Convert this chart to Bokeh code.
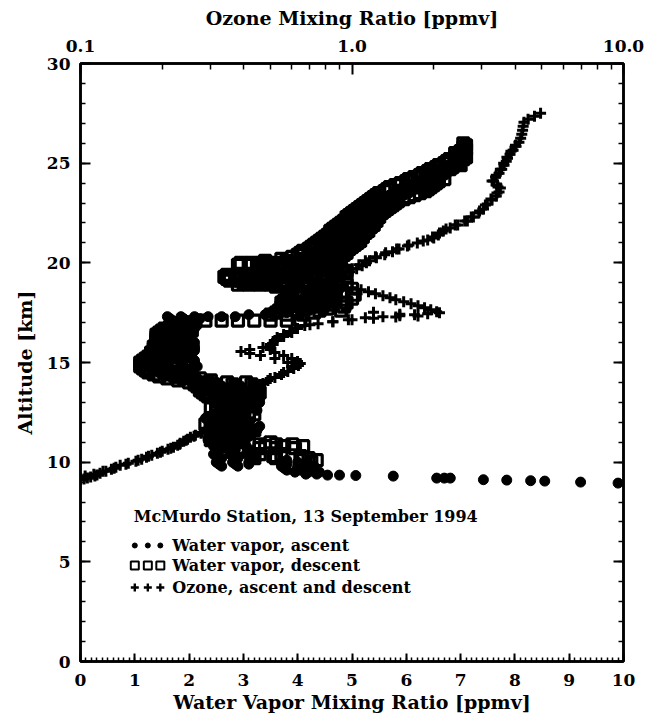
from bokeh.plotting import figure
from bokeh.models import Range1d, LinearAxis, LogAxis, LogScale, FixedTicker, PrintfTickFormatter
from bokeh.embed import file_html
from bokeh.resources import INLINE
from bokeh.core.properties import value

# ---------------- data (altitude km, then mixing ratio values at that altitude) ----------------
wv_ascent_levels = [
    (8.95, 9.9), (9.0, 9.21), (9.05, 8.55), (9.07, 8.29), (9.1, 7.85), (9.12, 7.42),
    (9.2, 6.81), (9.2, 6.7), (9.2, 6.56), (9.3, 5.76), (9.33, 5.07), (9.35, 4.77), (9.35, 4.55),
    (9.4, 4.35, 4.15), (9.5, 3.95, 4.2, 4.4), (9.6, 3.8, 4.05, 4.3), (9.7, 3.75, 4.0, 4.3),
    (9.8, 2.6, 2.9, 3.7, 4.0, 4.3), (9.9, 2.55, 2.85, 3.1, 3.8, 4.1), (10.0, 2.5, 2.8, 3.1, 3.75, 4.0),
    (10.1, 2.55, 2.85, 3.8), (10.2, 2.6, 2.9, 3.2), (10.3, 2.5, 2.8), (10.4, 2.45, 2.75, 3.05),
    (10.5, 2.5, 2.8), (10.6, 2.55, 2.85, 3.15), (10.7, 2.5, 2.8), (10.8, 2.45, 2.75, 3.05),
    (10.9, 2.5, 2.8), (11.0, 2.4, 2.7, 3.0), (11.1, 2.35, 2.65), (11.2, 2.35, 2.65, 2.95),
    (11.3, 2.4, 2.7), (11.4, 2.5, 2.8, 3.1), (11.5, 2.6, 2.9), (11.6, 2.7, 3.0, 3.25),
    (11.7, 2.8, 3.1), (11.8, 2.75, 3.05, 3.3), (11.9, 2.6, 2.9), (12.0, 2.5, 2.8, 3.1),
    (12.1, 2.4, 2.7), (12.2, 2.3, 2.6, 2.9), (12.3, 2.35, 2.65), (12.4, 2.45, 2.75, 3.05),
    (12.5, 2.55, 2.85), (12.6, 2.65, 2.95, 3.25), (12.7, 2.75, 3.05), (12.8, 2.9, 3.2),
    (12.9, 2.85, 3.15), (13.0, 2.8, 3.1, 3.3), (13.1, 2.75, 3.05), (13.2, 2.7, 3.0, 3.3),
    (13.3, 2.8, 3.1), (13.4, 2.9, 3.2), (13.5, 2.8, 3.1), (13.6, 2.6, 2.9), (13.7, 2.4, 2.7),
    (13.8, 2.3, 2.6), (13.9, 2.15, 2.45), (14.0, 2.05, 2.3), (14.1, 1.9, 2.2), (14.2, 1.75, 2.05),
    (14.3, 1.65, 1.95), (14.4, 1.55, 1.85, 2.1), (14.5, 1.45, 1.75, 2.05), (14.6, 1.4, 1.7, 2.0),
    (14.7, 1.35, 1.65, 1.95), (14.8, 1.3, 1.6, 1.9, 2.15), (14.9, 1.3, 1.6, 1.85, 2.1),
    (15.0, 1.35, 1.6, 1.85, 2.1), (15.1, 1.4, 1.65, 1.9, 2.1), (15.2, 1.45, 1.7, 1.95),
    (15.3, 1.5, 1.75, 2.0), (15.4, 1.5, 1.8, 2.05), (15.5, 1.55, 1.8, 2.05), (15.6, 1.55, 1.85, 2.1),
    (15.7, 1.6, 1.85, 2.1), (15.8, 1.6, 1.9, 2.1), (15.9, 1.65, 1.9), (16.0, 1.65, 1.9, 2.1),
    (16.1, 1.7, 1.95), (16.2, 1.7, 1.95), (16.3, 1.75, 2.0), (16.4, 1.8, 2.0), (16.5, 1.8, 2.05),
    (16.6, 1.85, 2.05), (16.7, 1.85, 2.1), (16.8, 1.9, 2.1), (16.9, 1.9, 2.15), (17.0, 1.8, 2.1),
    (17.1, 1.7, 2.0), (17.2, 1.65, 1.9, 2.2), (17.3, 1.6, 1.85, 2.1, 2.35, 2.6, 2.85),
    (17.4, 3.1, 3.4), (17.5, 3.5, 3.8), (17.6, 3.8, 4.1), (17.7, 4.0, 4.3), (17.8, 4.1, 4.45),
    (17.9, 4.2, 4.5), (18.0, 4.25, 4.6), (18.2, 4.3, 4.65), (18.4, 4.35, 4.7), (18.6, 4.4, 4.75),
    (18.8, 4.3, 4.6), (19.0, 4.0, 4.4), (19.2, 3.6, 4.0), (19.6, 3.9, 4.3), (20.0, 3.3, 3.5),
    (20.1, 3.7, 4.0), (20.2, 4.0, 4.3), (20.3, 4.2, 4.6), (20.5, 4.3, 4.7), (20.7, 4.4, 4.8),
    (20.9, 4.5, 4.9), (21.1, 4.6, 4.95), (21.3, 4.7, 5.05), (21.5, 4.75, 5.1), (21.7, 4.85, 5.15),
    (21.9, 4.9, 5.2), (22.1, 5.0, 5.3), (22.3, 5.05, 5.35), (22.5, 5.15, 5.45), (22.7, 5.25, 5.5),
    (22.9, 5.35, 5.6), (23.1, 5.5, 5.75), (23.3, 5.6, 5.9), (23.5, 5.75, 6.05), (23.7, 5.85, 6.2),
    (23.9, 6.0, 6.3), (24.1, 6.2, 6.45), (24.3, 6.35, 6.6), (24.5, 6.5, 6.75), (24.7, 6.6, 6.85),
    (24.9, 6.75, 6.95), (25.1, 6.85, 7.0), (25.3, 6.95),
]

wv_descent_levels = [
    (26.0, 7.05), (25.9, 7.1), (25.8, 7.05), (25.7, 7.1), (25.6, 7.0), (25.5, 6.9, 7.05),
    (25.4, 6.95), (25.3, 6.9, 7.1), (25.2, 6.8, 7.05), (25.1, 6.75), (25.0, 6.7, 6.95),
    (24.9, 6.6, 7.0), (24.8, 6.55, 6.85), (24.7, 6.45, 6.8), (24.6, 6.4, 6.7), (24.5, 6.3, 6.65),
    (24.4, 6.25, 6.55), (24.3, 6.15, 6.5), (24.2, 6.05, 6.45, 6.7), (24.1, 6.0, 6.35, 6.6),
    (24.0, 5.9, 6.3, 6.55), (23.9, 5.8, 6.2, 6.5), (23.8, 5.7, 6.1, 6.45), (23.7, 5.65, 6.0, 6.4),
    (23.6, 5.6, 5.95, 6.35), (23.5, 5.5, 5.9, 6.25), (23.4, 5.45, 5.85, 6.15), (23.3, 5.4, 5.75, 6.05),
    (23.2, 5.35, 5.7, 5.95), (23.1, 5.3, 5.65, 5.85), (23.0, 5.25, 5.55, 5.8), (22.9, 5.2, 5.5, 5.75),
    (22.8, 5.15, 5.45, 5.7), (22.7, 5.1, 5.4, 5.65), (22.6, 5.05, 5.35, 5.6), (22.5, 5.0, 5.3, 5.55),
    (22.4, 4.95, 5.25, 5.5), (22.3, 4.9, 5.2, 5.5), (22.2, 4.9, 5.2, 5.45), (22.1, 4.85, 5.15, 5.45),
    (22.0, 4.8, 5.1, 5.4), (21.9, 4.75, 5.05, 5.4), (21.8, 4.7, 5.0, 5.35), (21.7, 4.65, 5.0, 5.3),
    (21.6, 4.6, 4.95, 5.3), (21.5, 4.6, 4.9, 5.25), (21.4, 4.55, 4.9, 5.2), (21.3, 4.5, 4.85, 5.2),
    (21.2, 4.45, 4.8, 5.15), (21.1, 4.4, 4.75, 5.15), (21.0, 4.35, 4.7, 5.1), (20.9, 4.3, 4.65, 5.05),
    (20.8, 4.25, 4.6, 5.0), (20.7, 4.2, 4.55, 4.95), (20.6, 4.1, 4.5, 4.9), (20.5, 4.05, 4.45, 4.9),
    (20.4, 4.0, 4.4, 4.85), (20.3, 3.9, 4.3, 4.8), (20.2, 3.7, 4.1, 4.6), (20.1, 3.4, 3.8, 4.2, 4.7),
    (20.0, 2.95, 3.15, 3.35, 3.55, 3.75, 3.95, 4.15, 4.35, 4.55, 4.75),
    (19.9, 2.9, 3.1, 3.3, 3.5, 3.7, 3.9, 4.1, 4.3),
    (19.8, 3.25, 3.45, 3.65, 3.85, 4.05, 4.25, 4.45, 4.65), (19.7, 4.5, 4.8), (19.6, 4.6, 4.9), (19.5, 4.7),
    (19.4, 2.7, 2.9, 3.1, 3.3, 3.5, 3.7, 3.9, 4.1, 4.3, 4.5, 4.7),
    (19.3, 2.65, 2.85, 3.05, 3.25, 3.45, 3.65, 3.85, 4.05, 4.25, 4.45, 4.65, 4.9),
    (19.2, 2.7, 2.9, 3.1, 3.3, 3.5), (19.1, 2.75, 2.95, 3.15, 3.35, 3.55, 3.75, 3.95, 4.15, 4.35, 4.55, 4.75),
    (19.0, 3.0, 3.2, 3.4, 3.6, 3.8, 4.0, 4.2),
    (18.9, 2.9, 3.1, 3.3, 3.5, 3.7, 3.9, 4.1, 4.3, 4.5, 4.7, 4.9), (18.8, 3.6, 3.8, 4.0, 4.2, 4.4),
    (18.7, 3.8, 4.2, 4.6, 5.0),
    (18.6, 3.9, 4.3, 4.7), (18.5, 4.0, 4.4, 4.8), (18.4, 3.9, 4.3, 4.7, 5.05), (18.3, 3.85, 4.25, 4.65),
    (18.2, 3.8, 4.2, 4.6, 5.0), (18.1, 3.75, 4.15, 4.55), (18.0, 3.7, 4.1, 4.5, 4.9),
    (17.9, 3.8, 4.2, 4.6), (17.8, 3.7, 4.05, 4.45, 4.85), (17.7, 3.75, 4.15, 4.55),
    (17.6, 3.65, 4.0, 4.4, 4.8), (17.5, 3.6, 4.0, 4.3), (17.4, 3.5, 3.8, 4.1),
    (17.1, 2.3, 2.6, 2.9, 3.2, 3.5, 3.8, 4.05), (17.0, 1.9, 2.1), (16.9, 1.75, 2.0), (16.8, 1.65, 1.95),
    (16.7, 1.55, 1.85), (16.6, 1.5, 1.8, 2.05), (16.5, 1.45, 1.75, 2.0), (16.4, 1.4, 1.7),
    (16.3, 1.4, 1.7, 1.95), (16.2, 1.4, 1.65), (16.1, 1.4, 1.7, 1.95), (16.0, 1.4, 1.65),
    (15.9, 1.4, 1.7, 1.95), (15.8, 1.35, 1.65), (15.7, 1.35, 1.65, 1.95), (15.6, 1.35, 1.6),
    (15.5, 1.3, 1.6, 1.9), (15.4, 1.3, 1.6), (15.3, 1.25, 1.55, 1.85), (15.2, 1.2, 1.5),
    (15.1, 1.15, 1.45, 1.75), (15.0, 1.1, 1.4), (14.9, 1.1, 1.4, 1.7), (14.8, 1.1, 1.4),
    (14.7, 1.15, 1.45, 1.75), (14.6, 1.2, 1.5), (14.5, 1.25, 1.55, 1.85), (14.4, 1.35, 1.65),
    (14.3, 1.45, 1.75, 2.05), (14.2, 1.6, 1.9, 2.2), (14.1, 1.8, 2.1, 2.4),
    (14.0, 2.0, 2.35, 2.7, 3.05), (13.9, 2.1, 2.45, 2.8, 3.15), (13.8, 2.15, 2.5, 2.85, 3.2),
    (13.7, 2.2, 2.55, 2.9, 3.25), (13.6, 2.2, 2.55, 2.9, 3.25), (13.5, 2.25, 2.6, 2.95, 3.3),
    (13.4, 2.3, 2.5), (13.3, 2.35, 2.6, 2.8, 3.0), (13.2, 2.8, 3.0, 3.2), (13.1, 2.5, 2.7, 2.9, 3.1),
    (13.0, 2.6, 2.8, 3.0), (12.9, 2.5, 2.7, 2.9, 3.1), (12.8, 2.6, 2.8, 3.0, 3.2), (12.7, 2.4, 2.6, 2.8, 3.0),
    (12.6, 2.5, 2.7, 2.9), (12.5, 2.5, 2.7, 2.9, 3.1), (12.4, 2.6, 2.8, 3.0, 3.2), (12.3, 2.5, 2.7, 2.9, 3.1),
    (12.2, 2.4, 2.6, 2.8, 3.0), (12.1, 2.5, 2.7, 2.9), (12.0, 2.4, 2.6, 2.8, 3.0), (11.9, 2.3, 2.5, 2.7),
    (11.8, 2.4, 2.6, 2.8, 3.0), (11.7, 2.5, 2.7, 2.9), (11.6, 2.6, 2.8, 3.0, 3.2), (11.5, 2.5, 2.7, 2.9, 3.1),
    (11.4, 2.45, 2.65, 2.85, 3.05), (11.3, 2.4, 2.6, 2.8, 3.0), (11.2, 2.55, 2.75, 2.95),
    (11.1, 2.4, 2.6, 2.8, 3.0), (11.0, 2.5, 2.7, 2.9, 3.1, 3.5),
    (10.9, 2.6, 2.8, 3.3, 3.6, 3.9), (10.8, 2.7, 3.4, 3.75, 4.1), (10.7, 2.9, 3.3, 3.6, 3.95), (10.6, 3.0),
    (10.4, 3.3, 3.7), (10.3, 3.2, 3.55, 4.05), (10.2, 3.2, 3.6, 4.2), (10.1, 4.1, 4.35), (10.0, 4.25),
]

# ozone (altitude km, ppmv)
ozone_ascent = [
    (9.1, 0.100), (9.15, 0.103), (9.2, 0.106), (9.25, 0.109), (9.3, 0.113), (9.35, 0.115),
    (9.45, 0.118), (9.55, 0.124), (9.65, 0.130), (9.75, 0.135), (9.85, 0.140), (9.95, 0.150),
    (10.05, 0.160), (10.15, 0.168), (10.25, 0.175), (10.35, 0.183), (10.45, 0.192), (10.55, 0.200),
    (10.65, 0.210), (10.75, 0.220), (10.85, 0.228), (10.95, 0.233), (11.05, 0.240), (11.15, 0.248),
    (11.25, 0.254), (11.35, 0.265), (11.45, 0.278), (11.55, 0.288), (11.7, 0.296), (11.85, 0.305),
    (12.0, 0.315), (12.15, 0.325), (12.3, 0.335), (12.45, 0.345), (12.6, 0.36), (12.75, 0.375),
    (12.9, 0.39), (13.05, 0.405), (13.2, 0.42), (13.35, 0.435), (13.5, 0.445), (13.65, 0.455),
    (13.8, 0.46), (13.95, 0.47), (14.1, 0.49), (14.25, 0.52), (14.4, 0.55), (14.55, 0.58),
    (14.7, 0.61), (14.85, 0.635), (14.95, 0.645), (15.05, 0.63), (15.2, 0.60), (15.35, 0.56),
    (15.5, 0.52), (15.65, 0.50), (15.8, 0.50), (15.95, 0.51), (16.1, 0.52), (16.25, 0.53),
    (16.4, 0.56), (16.55, 0.59), (16.7, 0.62), (16.85, 0.67), (16.95, 0.75), (17.05, 0.85),
    (17.15, 0.97), (17.25, 1.12), (17.3, 1.3), (17.35, 1.5), (17.4, 1.7), (17.45, 1.9),
    (17.5, 2.1), (17.55, 2.05), (17.65, 1.95), (17.75, 1.85), (17.85, 1.75), (17.95, 1.65),
    (18.05, 1.55), (18.15, 1.45), (18.25, 1.38), (18.35, 1.3), (18.45, 1.22), (18.55, 1.15),
    (18.65, 1.08), (18.75, 1.0), (18.85, 0.93), (18.95, 0.86), (19.05, 0.84), (19.15, 0.85),
    (19.25, 0.86), (19.4, 0.92), (19.55, 0.98), (19.7, 1.04), (19.85, 1.09), (20.0, 1.13),
    (20.1, 1.16), (20.25, 1.23), (20.4, 1.32), (20.55, 1.41), (20.7, 1.49), (20.85, 1.6),
    (21.0, 1.74), (21.15, 1.9), (21.25, 2.0), (21.4, 2.08), (21.6, 2.17), (21.75, 2.3),
    (21.9, 2.45), (22.1, 2.66), (22.3, 2.8), (22.5, 2.93), (22.7, 3.05), (22.95, 3.15),
    (23.15, 3.28), (23.35, 3.4), (23.55, 3.48), (23.75, 3.52), (23.9, 3.42), (24.1, 3.32),
    (24.3, 3.38), (24.5, 3.48), (24.7, 3.56), (24.9, 3.63), (25.1, 3.7), (25.25, 3.74),
    (25.45, 3.82), (25.65, 3.92), (25.85, 4.02), (26.05, 4.12), (26.25, 4.18), (26.45, 4.22),
    (26.65, 4.25), (26.85, 4.27), (27.05, 4.3), (27.2, 4.45), (27.35, 4.7), (27.5, 4.95),
]

ozone_descent = [
    (9.2, 0.100), (9.3, 0.104), (9.4, 0.112), (9.55, 0.121), (9.7, 0.133), (9.9, 0.147),
    (10.1, 0.163), (10.3, 0.178), (10.5, 0.197), (10.7, 0.215), (10.9, 0.232), (11.1, 0.245),
    (11.3, 0.262), (11.5, 0.28), (11.8, 0.3), (12.1, 0.32), (12.4, 0.34), (12.7, 0.365),
    (13.0, 0.395), (13.3, 0.425), (13.6, 0.44), (13.9, 0.46), (14.2, 0.5), (14.5, 0.56),
    (14.8, 0.6), (15.0, 0.58), (15.2, 0.52), (15.35, 0.46), (15.45, 0.42), (15.55, 0.39),
    (15.65, 0.42), (15.75, 0.47), (15.9, 0.5), (16.1, 0.53), (16.3, 0.56), (16.5, 0.6),
    (16.7, 0.63), (16.9, 0.7), (17.05, 0.85), (17.15, 1.0), (17.22, 1.2), (17.28, 1.45),
    (17.33, 1.75), (17.42, 1.5), (17.52, 1.2), (17.65, 0.95), (17.8, 0.8), (17.95, 0.76),
    (18.1, 0.76), (18.3, 0.78), (18.5, 0.8), (18.7, 0.81), (18.9, 0.8),
    (19.1, 0.8), (19.3, 0.84), (19.5, 0.93), (19.7, 1.0), (19.9, 1.06), (20.1, 1.12),
    (20.3, 1.22), (20.5, 1.33), (20.7, 1.46), (20.9, 1.62), (21.1, 1.83), (21.3, 1.98),
    (21.5, 2.1), (21.7, 2.22), (21.9, 2.4), (22.1, 2.6), (22.3, 2.75), (22.6, 2.95),
    (22.9, 3.1), (23.2, 3.25), (23.5, 3.42), (23.8, 3.45), (24.1, 3.28), (24.4, 3.4),
    (24.7, 3.52), (25.0, 3.62), (25.3, 3.72), (25.6, 3.85), (25.9, 4.0),
]

x_ticks = [0, 1, 2, 3, 4, 5, 6, 7, 8, 9, 10]
y_ticks = [0, 5, 10, 15, 20, 25, 30]
oz_ticks = [0.1, 1.0, 10.0]

legend_title = "McMurdo Station, 13 September 1994"
legend_labels = ["Water vapor, ascent", "Water vapor, descent", "Ozone, ascent and descent"]

# ---------------- helpers ----------------
def flatten(levels):
    xs, ys = [], []
    for lev in levels:
        for v in lev[1:]:
            ys.append(lev[0])
            xs.append(v)
    return xs, ys

asc_x, asc_y = flatten(wv_ascent_levels)
desc_x, desc_y = flatten(wv_descent_levels)
oa_y = [a for a, _ in ozone_ascent]
oa_x = [v for _, v in ozone_ascent]
od_y = [a for a, _ in ozone_descent]
od_x = [v for _, v in ozone_descent]

FONT = "DejaVu Serif"
TICK_FS = "17px"
TITLE_FS = "19px"

p = figure(width=647, height=718, output_backend="svg", toolbar_location=None,
           x_range=Range1d(0, 10), y_range=Range1d(0, 30),
           x_axis_location=None, y_axis_location=None,
           min_border_left=80, min_border_right=24, min_border_top=63, min_border_bottom=57)
p.xgrid.visible = False
p.ygrid.visible = False
p.background_fill_color = "white"
p.border_fill_color = "white"
p.outline_line_color = "black"
p.outline_line_width = 2.5

p.extra_x_ranges = {"oz": Range1d(0.1, 10.0)}
p.extra_x_scales = {"oz": LogScale()}


def style(ax, tin, tmin):
    ax.axis_line_width = 2.5
    ax.axis_line_color = "black"
    ax.major_tick_in = tin
    ax.major_tick_out = 0
    ax.minor_tick_in = tmin
    ax.minor_tick_out = 0
    ax.major_tick_line_width = 2
    ax.minor_tick_line_width = 1.5
    ax.major_tick_line_color = "black"
    ax.minor_tick_line_color = "black"
    ax.major_label_text_font = FONT
    ax.major_label_text_font_style = "bold"
    ax.major_label_text_font_size = TICK_FS
    ax.major_label_text_color = "black"
    ax.axis_label_text_font = FONT
    ax.axis_label_text_font_style = "bold"
    ax.axis_label_text_font_size = TITLE_FS
    ax.axis_label_text_color = "black"


minor_x = [i / 10 for i in range(0, 101)]
bottom = LinearAxis(ticker=FixedTicker(ticks=x_ticks, minor_ticks=minor_x),
                    axis_label="Water Vapor Mixing Ratio [ppmv]")
style(bottom, 8, 4)
bottom.major_label_standoff = 12
bottom.axis_label_standoff = 2
p.add_layout(bottom, "below")

minor_y = list(range(0, 31))
left = LinearAxis(ticker=FixedTicker(ticks=y_ticks, minor_ticks=minor_y), axis_label="Altitude [km]")
style(left, 10, 5)
left.major_label_standoff = 10
left.axis_label_standoff = 8
p.add_layout(left, "left")

right = LinearAxis(ticker=FixedTicker(ticks=y_ticks, minor_ticks=minor_y),
                   major_label_overrides={t: "" for t in y_ticks})
style(right, 10, 5)
right.major_label_standoff = 0
p.add_layout(right, "right")

minor_oz = [0.2, 0.3, 0.4, 0.5, 0.6, 0.7, 0.8, 0.9, 2, 3, 4, 5, 6, 7, 8, 9]
top = LogAxis(x_range_name="oz", ticker=FixedTicker(ticks=oz_ticks, minor_ticks=minor_oz),
              formatter=PrintfTickFormatter(format="%.1f"), axis_label="Ozone Mixing Ratio [ppmv]")
style(top, 11, 6)
top.major_label_standoff = 12
top.axis_label_standoff = 8
p.add_layout(top, "above")

# ---------------- data marks ----------------
p.scatter(oa_x, oa_y, marker="cross", size=11, line_width=3, line_color="black", x_range_name="oz")
p.scatter(od_x, od_y, marker="cross", size=11, line_width=3, line_color="black", x_range_name="oz")
p.scatter(asc_x, asc_y, marker="circle", size=10, fill_color="black", line_color="black", line_width=1)
p.scatter(desc_x, desc_y, marker="square", size=11, fill_color=None, line_color="black", line_width=3.2)

# ---------------- legend (drawn inside the frame) ----------------
LX0 = 0.98          # left of legend block (data units)
LSYM = [1.0, 1.24, 1.47]
LTXT = 1.69
LY = [7.28, 5.82, 4.82, 3.71]

p.text(x=[LX0], y=[LY[0]], text=[legend_title], text_font=value(FONT), text_font_style="bold",
       text_font_size="16px", text_baseline="middle", text_align="left", text_color="black")
p.text(x=[LTXT] * 3, y=LY[1:], text=legend_labels, text_font=value(FONT), text_font_style="bold",
       text_font_size="16px", text_baseline="middle", text_align="left", text_color="black")
p.scatter(LSYM, [LY[1]] * 3, marker="circle", size=5, fill_color="black", line_color="black")
p.scatter(LSYM, [LY[2]] * 3, marker="square", size=8, fill_color=None, line_color="black", line_width=2)
p.scatter(LSYM, [LY[3]] * 3, marker="cross", size=8, line_color="black", line_width=2.4)

open("out.html", "w").write(file_html(p, INLINE))
